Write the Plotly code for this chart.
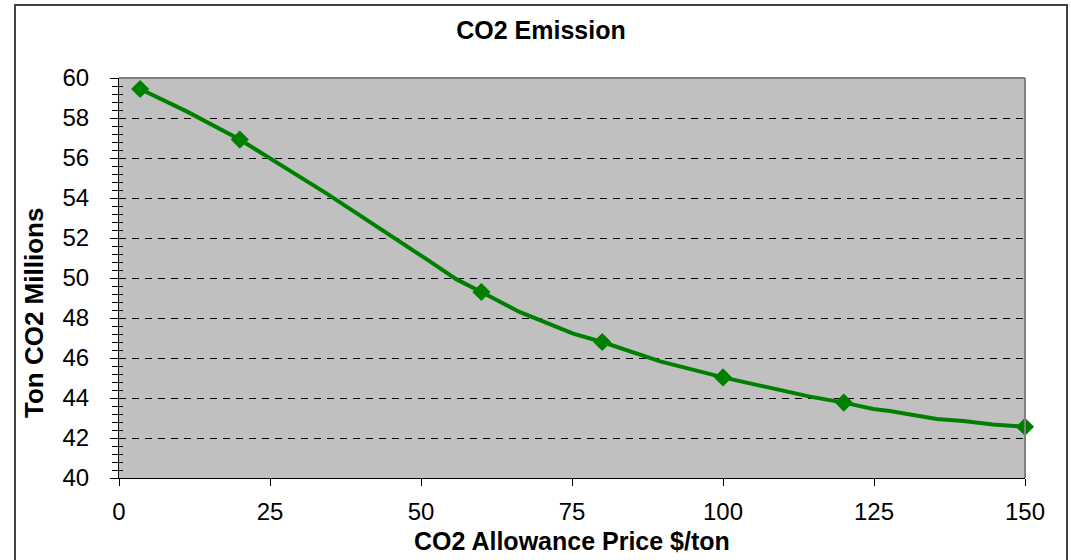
import plotly.graph_objects as go

# Line (polyline) points
line_x = [3.5, 11.2, 20, 34.4, 50.9, 55.9, 60, 66.4, 75.2, 80, 89.6, 100,
          114.4, 120, 124.9, 127.6, 135.4, 139.8, 144.7, 150]
line_y = [59.45, 58.33, 56.92, 54.22, 50.94, 49.93, 49.3, 48.29, 47.22, 46.8,
          45.83, 45.03, 44.07, 43.77, 43.45, 43.35, 42.95, 42.85, 42.68, 42.56]

# Marked points
marker_x = [3.5, 20, 60, 80, 100, 120, 150]
marker_y = [59.45, 56.92, 49.3, 46.8, 45.03, 43.77, 42.56]

x_ticks = [0, 25, 50, 75, 100, 125, 150]
y_ticks = [40, 42, 44, 46, 48, 50, 52, 54, 56, 58, 60]

title_text = "CO2 Emission"
x_title = "CO2 Allowance Price $/ton"
y_title = "Ton CO2 Millions"

FONT = "Liberation Sans, Arial, sans-serif"
GREEN = "#008000"

fig = go.Figure()
fig.add_trace(go.Scatter(x=line_x, y=line_y, mode="lines",
                         line=dict(color=GREEN, width=4), showlegend=False,
                         hoverinfo="skip"))
fig.add_trace(go.Scatter(x=marker_x, y=marker_y, mode="markers",
                         marker=dict(symbol="diamond", size=14, color=GREEN),
                         showlegend=False, cliponaxis=False))
# dummy trace so the overlay axis (inside half of cross ticks) is drawn
fig.add_trace(go.Scatter(x=[None], y=[None], yaxis="y2", showlegend=False))

W, H = 1071, 560
L, R, T, B = 119, 46, 78, 82
pw, ph = W - L - R, H - T - B

def px(xp):
    return (xp - L) / pw

def py(yp):
    return (H - B - yp) / ph

fig.update_layout(
    width=W, height=H,
    margin=dict(l=L, r=R, t=T, b=B),
    paper_bgcolor="white",
    plot_bgcolor="#C0C0C0",
    font=dict(family=FONT, color="black", size=24),
    title=dict(text="<b>" + title_text + "</b>", xref="paper", x=px(541),
               xanchor="center", yref="container", y=1 - 30 / H,
               yanchor="middle", font=dict(size=25, family=FONT)),
    xaxis=dict(range=[0, 150], tickvals=x_ticks, ticktext=[str(v) for v in x_ticks],
               showgrid=False, zeroline=False, showline=True, linecolor="black",
               linewidth=1, ticks="outside", ticklen=7, tickcolor="black",
               tickwidth=1, ticklabelstandoff=5, tickfont=dict(size=24)),
    yaxis=dict(range=[40, 60], tickvals=y_ticks, ticktext=[str(v) for v in y_ticks],
               showgrid=True, gridcolor="black", gridwidth=1, griddash="7px,6px",
               zeroline=False, showline=True, linecolor="black", linewidth=1,
               ticks="outside", ticklen=8, tickcolor="black", tickwidth=1,
               ticklabelstandoff=16, tickfont=dict(size=24),
               minor=dict(dtick=0.4, ticks="outside", ticklen=6,
                          tickcolor="black", tickwidth=1, showgrid=False)),
    yaxis2=dict(range=[40, 60], overlaying="y", side="left", tickvals=y_ticks,
                showticklabels=False, showgrid=False, zeroline=False,
                showline=False, ticks="inside", ticklen=4, tickcolor="black",
                tickwidth=1,
                minor=dict(dtick=0.4, ticks="inside", ticklen=4,
                           tickcolor="black", tickwidth=1, showgrid=False)),
    annotations=[
        dict(text="<b>" + x_title + "</b>", xref="paper", yref="paper",
             x=px(572), y=py(541), xanchor="center", yanchor="middle",
             showarrow=False, font=dict(size=25, family=FONT)),
        dict(text="<b>" + y_title + "</b>", xref="paper", yref="paper",
             x=px(34), y=py(313), xanchor="center", yanchor="middle",
             textangle=-90, showarrow=False, font=dict(size=26, family=FONT)),
    ],
    shapes=[
        # gray top and right edges of plot area
        dict(type="line", xref="paper", yref="paper", x0=0, x1=1, y0=1, y1=1,
             line=dict(color="#808080", width=2), layer="above"),
        dict(type="line", xref="paper", yref="paper", x0=1, x1=1, y0=0, y1=1,
             line=dict(color="#808080", width=2), layer="above"),
        # outer chart border
        dict(type="rect", xref="paper", yref="paper", x0=px(15), x1=px(1067),
             y0=py(H + 10), y1=py(5), line=dict(color="#404040", width=2),
             fillcolor="rgba(0,0,0,0)", layer="above"),
    ],
)

fig.write_html("out.html",
               config={"displayModeBar": False},
               post_script="document.body.style.margin='0';"
                           "document.body.style.overflow='hidden';")
